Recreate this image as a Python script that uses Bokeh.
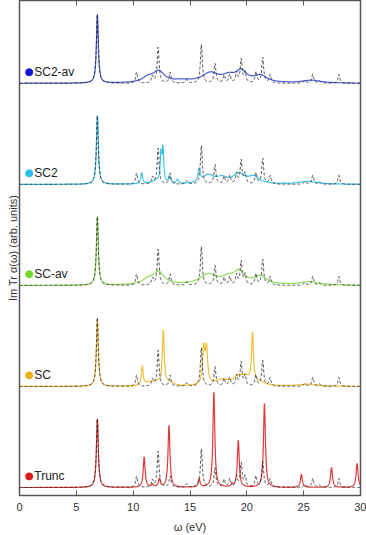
import numpy as np
from bokeh.plotting import figure
from bokeh.models import LinearAxis, Range1d, Title, FixedTicker, ColumnDataSource
from bokeh.core.properties import value
from bokeh.embed import file_html
from bokeh.resources import INLINE

# ---------------- data ----------------
# panels from bottom to top
panel_names = ["Trunc", "SC", "SC-av", "SC2", "SC2-av"]
line_colors = ["#e03a3a", "#f0bd3c", "#8fdc58", "#3ec4ea", "#4a5ad8"]
dot_colors = ["#e01818", "#e8b01c", "#70d828", "#28bce8", "#1414d8"]

# reference (dashed) spectrum: peak position (eV), height (rel.), HWHM (eV)
ref_pos = [6.85, 10.3, 11.7, 12.2, 13.25, 14.7, 16.0, 17.2, 18.0, 18.5, 19.1, 19.5, 19.85, 20.8, 21.4, 22.05, 25.1, 25.8, 26.4, 28.1]
ref_hgt = [100, 16, 10, 52, 16, 5, 56, 28, 11, 12, 15, 34, 15, 16, 37, 12, 4, 13, 3, 13]
ref_wid = [0.1, 0.1, 0.1, 0.1, 0.1, 0.12, 0.1, 0.1, 0.1, 0.1, 0.1, 0.1, 0.1, 0.1, 0.1, 0.1, 0.12, 0.1, 0.12, 0.1]

trunc_pos = [6.85, 10.97, 11.7, 12.3, 13.15, 15.8, 17.1, 18.7, 19.25, 21.55, 24.8, 27.45, 29.7]
trunc_hgt = [100, 44, 4, 12, 90, 12, 138, 4, 68, 122, 19, 29, 35]
trunc_wid = [0.1, 0.1, 0.1, 0.1, 0.1, 0.1, 0.1, 0.1, 0.1, 0.1, 0.1, 0.1, 0.1]

sc_pos = [6.85, 10.8, 11.4, 12.0, 12.65, 13.2, 16.2, 16.45, 17.8, 19.3, 19.9, 20.5, 21.2, 25.3]
sc_hgt = [98, 28, 4, 6, 78, 5, 52, 50, 8, 12, 8, 72, 5, 3]
sc_wid = [0.1, 0.1, 0.3, 0.4, 0.1, 0.4, 0.12, 0.12, 0.8, 0.6, 0.4, 0.1, 0.5, 1.0]

scav_pos = [6.85, 11.3, 12.25, 16.6, 18.3, 19.3, 21.2, 25.5]
scav_hgt = [100, 7, 18, 15, 8, 18, 12, 5]
scav_wid = [0.1, 0.6, 0.6, 0.9, 0.6, 0.6, 0.7, 1.0]

sc2_pos = [6.85, 10.75, 12.0, 12.45, 12.62, 13.2, 13.9, 15.8, 16.6, 17.8, 19.3, 20.6, 25.4]
sc2_hgt = [100, 16, 5, 40, 48, 10, 6, 18, 12, 8, 14, 10, 4]
sc2_wid = [0.1, 0.1, 0.4, 0.08, 0.08, 0.1, 0.1, 0.12, 0.6, 0.6, 0.6, 0.6, 1.0]

sc2av_pos = [6.85, 11.3, 12.25, 14.3, 16.8, 18.4, 19.5, 21.2, 25.7]
sc2av_hgt = [100, 7, 16, 3, 14, 8, 16, 10, 4]
sc2av_wid = [0.1, 0.6, 0.6, 1.0, 0.9, 0.6, 0.6, 0.7, 1.0]

x_ticks = [0, 5, 10, 15, 20, 25, 30]
x_label = "ω (eV)"
y_label = "Im Tr α(ω) (arb. units)"

series = [
    (trunc_pos, trunc_hgt, trunc_wid),
    (sc_pos, sc_hgt, sc_wid),
    (scav_pos, scav_hgt, scav_wid),
    (sc2_pos, sc2_hgt, sc2_wid),
    (sc2av_pos, sc2av_hgt, sc2av_wid),
]

# ---------------- build ----------------
omega = np.linspace(0, 30, 3001)
scale = 0.0068  # height units -> panel units


def spectrum(pos, hgt, wid):
    y = np.zeros_like(omega)
    for x0, h, g in zip(pos, hgt, wid):
        y += h * g * g / ((omega - x0) ** 2 + g * g)
    return y * scale


ref = spectrum(ref_pos, ref_hgt, ref_wid)

font = "Liberation Sans"

p = figure(width=366, height=535, x_range=Range1d(0, 30), y_range=Range1d(-0.079, 4.82),
           output_backend="svg", toolbar_location=None, y_axis_location=None,
           min_border_left=19, min_border_right=6, min_border_top=0, min_border_bottom=38)
p.xgrid.visible = False
p.ygrid.visible = False
p.background_fill_color = "white"
p.border_fill_color = "white"
p.outline_line_color = "#555555"
p.outline_line_width = 1.5

for i, (name, (pos, hgt, wid)) in enumerate(zip(panel_names, series)):
    off = float(i)
    col = spectrum(pos, hgt, wid)
    src = ColumnDataSource(dict(x=omega, y=col + off, r=ref + off))
    p.line("x", "y", source=src, line_color=line_colors[i], line_width=1.2)
    p.line("x", "r", source=src, line_color="#222222", line_width=0.8, line_dash="3 2")
    p.scatter([0.85], [off + 0.11], size=7, color=dot_colors[i], line_color=dot_colors[i])
    p.text([1.3], [off + 0.11], text=[name], text_font=value(font), text_font_size="12px",
           text_baseline="middle", text_align="left", text_color="#222222")

xa = p.xaxis[0]
xa.ticker = FixedTicker(ticks=x_ticks)
xa.major_tick_in = 5
xa.major_tick_out = 0
xa.minor_tick_line_color = None
xa.axis_line_color = None
xa.major_tick_line_color = "#555555"
xa.major_label_text_font = font
xa.major_label_text_font_size = "11px"
xa.major_label_text_color = "#333333"
xa.major_label_standoff = 7
xa.axis_label = x_label
xa.axis_label_text_font = font
xa.axis_label_text_font_size = "11px"
xa.axis_label_text_font_style = "normal"
xa.axis_label_text_color = "#333333"
xa.axis_label_standoff = 7

top = LinearAxis(ticker=FixedTicker(ticks=x_ticks), major_tick_in=5, major_tick_out=0,
                 minor_tick_line_color=None, axis_line_color=None,
                 major_tick_line_color="#555555",
                 major_label_overrides={t: "" for t in x_ticks},
                 major_label_text_font_size="1px", major_label_standoff=0)
p.add_layout(top, "above")

ytitle = Title(text=y_label, align="center", text_font=font, text_font_size="11px",
               text_font_style="normal", text_color="#333333", standoff=2, offset=0)
p.add_layout(ytitle, "left")

open("out.html", "w").write(file_html(p, INLINE))
